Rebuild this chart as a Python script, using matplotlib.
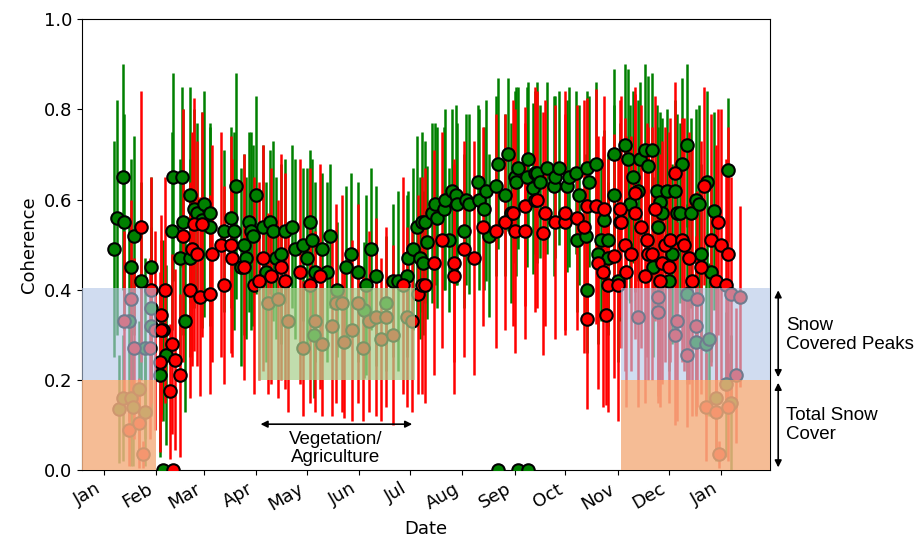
import numpy as np
import matplotlib
matplotlib.use("Agg")
import matplotlib.pyplot as plt
import matplotlib.dates as mdates

# day offsets from 1 Jan, mean coherence and spread
green_day = [
    6, 8, 9, 11, 11, 12, 15, 16, 16, 17,
    18, 21, 22, 24, 24, 28, 28, 28, 33, 35,
    35, 37, 40, 41, 45, 46, 47, 48, 51, 51,
    53, 55, 58, 59, 63, 63, 71, 75, 77, 78,
    81, 83, 84, 86, 87, 88, 90, 94, 96, 98,
    100, 102, 105, 107, 111, 113, 118, 120, 122, 123,
    124, 125, 129, 132, 134, 138, 143, 146, 150, 154,
    155, 158, 161, 167, 171, 174, 179, 180, 183, 185,
    187, 188, 189, 190, 191, 194, 196, 197, 201, 202,
    204, 206, 208, 209, 213, 214, 216, 221, 222, 225,
    226, 228, 232, 233, 233, 237, 239, 241, 243, 244,
    245, 245, 250, 251, 251, 254, 255, 256, 258, 262,
    266, 267, 269, 274, 275, 279, 280, 281, 285, 286,
    286, 287, 291, 292, 294, 296, 298, 298, 302, 302,
    304, 305, 308, 310, 311, 313, 316, 317, 320, 322,
    324, 325, 327, 328, 329, 330, 333, 334, 336, 338,
    339, 341, 342, 345, 345, 347, 350, 350, 352, 353,
    356, 357, 358, 359, 361, 362, 368, 369, 371]
green_val = [
    0.49, 0.56, 0.135, 0.65, 0.16, 0.55, 0.33, 0.45, 0.16, 0.14,
    0.52, 0.18, 0.42, 0.27, 0.13, 0.45, 0.36, 0.32, 0.21, 0.31,
    0.0, 0.255, 0.53, 0.65, 0.47, 0.65, 0.55, 0.33, 0.61, 0.47,
    0.58, 0.57, 0.555, 0.59, 0.57, 0.54, 0.53, 0.56, 0.53, 0.63,
    0.45, 0.50, 0.47, 0.55, 0.53, 0.52, 0.61, 0.54, 0.44, 0.55,
    0.53, 0.47, 0.48, 0.53, 0.54, 0.49, 0.50, 0.47, 0.55, 0.51,
    0.30, 0.44, 0.49, 0.44, 0.52, 0.40, 0.45, 0.48, 0.44, 0.355,
    0.41, 0.49, 0.43, 0.37, 0.42, 0.42, 0.43, 0.47, 0.49, 0.54,
    0.47, 0.55, 0.46, 0.55, 0.505, 0.57, 0.59, 0.56, 0.58, 0.60,
    0.51, 0.62, 0.61, 0.59, 0.53, 0.60, 0.59, 0.64, 0.60, 0.58,
    0.62, 0.52, 0.63, 0.0, 0.68, 0.61, 0.70, 0.57, 0.65, 0.64,
    0.67, 0.0, 0.65, 0.69, 0.0, 0.625, 0.66, 0.66, 0.64, 0.67,
    0.63, 0.65, 0.67, 0.63, 0.65, 0.66, 0.51, 0.61, 0.52, 0.67,
    0.40, 0.64, 0.68, 0.48, 0.51, 0.555, 0.51, 0.47, 0.61, 0.70,
    0.42, 0.55, 0.72, 0.69, 0.59, 0.65, 0.62, 0.69, 0.71, 0.675,
    0.71, 0.45, 0.62, 0.54, 0.595, 0.57, 0.62, 0.42, 0.48, 0.62,
    0.57, 0.57, 0.68, 0.72, 0.39, 0.57, 0.60, 0.285, 0.59, 0.48,
    0.28, 0.64, 0.29, 0.44, 0.575, 0.16, 0.19, 0.665, 0.15]
green_err = [
    0.24, 0.26, 0.12, 0.25, 0.14, 0.24, 0.22, 0.24, 0.15, 0.13,
    0.22, 0.15, 0.22, 0.2, 0.12, 0.2, 0.18, 0.2, 0.18, 0.2,
    0.0, 0.2, 0.22, 0.23, 0.22, 0.2, 0.25, 0.2, 0.24, 0.22,
    0.22, 0.2, 0.24, 0.25, 0.2, 0.22, 0.18, 0.2, 0.22, 0.25,
    0.22, 0.2, 0.18, 0.2, 0.22, 0.2, 0.22, 0.18, 0.2, 0.16,
    0.2, 0.18, 0.2, 0.16, 0.18, 0.2, 0.17, 0.2, 0.16, 0.18,
    0.14, 0.2, 0.17, 0.2, 0.16, 0.15, 0.18, 0.18, 0.2, 0.15,
    0.2, 0.18, 0.2, 0.15, 0.17, 0.2, 0.18, 0.15, 0.18, 0.2,
    0.18, 0.2, 0.16, 0.18, 0.17, 0.2, 0.18, 0.2, 0.18, 0.2,
    0.16, 0.18, 0.2, 0.18, 0.17, 0.19, 0.2, 0.17, 0.2, 0.18,
    0.2, 0.18, 0.2, 0.0, 0.19, 0.18, 0.17, 0.2, 0.19, 0.21,
    0.18, 0.0, 0.2, 0.17, 0.0, 0.19, 0.18, 0.2, 0.17, 0.19,
    0.2, 0.18, 0.17, 0.19, 0.2, 0.18, 0.16, 0.2, 0.18, 0.17,
    0.14, 0.19, 0.18, 0.2, 0.18, 0.2, 0.19, 0.17, 0.2, 0.19,
    0.18, 0.22, 0.18, 0.2, 0.22, 0.19, 0.2, 0.17, 0.19, 0.2,
    0.17, 0.2, 0.19, 0.22, 0.2, 0.21, 0.18, 0.2, 0.2, 0.2,
    0.22, 0.2, 0.19, 0.18, 0.2, 0.21, 0.2, 0.16, 0.22, 0.2,
    0.16, 0.2, 0.17, 0.2, 0.22, 0.14, 0.16, 0.16, 0.15]

red_day = [
    12, 15, 16, 18, 21, 22, 23, 27, 28, 30,
    33, 34, 34, 36, 39, 40, 41, 42, 45, 47,
    51, 52, 53, 55, 57, 58, 63, 64, 69, 71,
    75, 76, 83, 89, 92, 94, 97, 99, 103, 105,
    107, 109, 116, 118, 122, 125, 128, 129, 135, 137,
    141, 142, 147, 150, 153, 157, 161, 164, 167, 171,
    177, 179, 182, 186, 188, 190, 195, 200, 207, 207,
    213, 219, 224, 232, 237, 242, 243, 249, 249, 255,
    256, 260, 261, 267, 273, 273, 280, 284, 286, 286,
    291, 292, 295, 296, 297, 298, 302, 304, 305, 306,
    308, 309, 312, 314, 314, 316, 318, 320, 321, 322,
    324, 326, 328, 328, 329, 330, 332, 334, 335, 338,
    338, 339, 342, 343, 345, 346, 348, 350, 351, 353,
    355, 356, 359, 362, 362, 363, 364, 365, 368, 369,
    369, 371, 374, 376]
red_val = [
    0.33, 0.09, 0.38, 0.27, 0.105, 0.54, 0.035, 0.27, 0.40, 0.31,
    0.24, 0.345, 0.31, 0.40, 0.175, 0.28, 0.0, 0.245, 0.21, 0.52,
    0.40, 0.49, 0.545, 0.48, 0.385, 0.545, 0.39, 0.48, 0.50, 0.41,
    0.50, 0.47, 0.45, 0.41, 0.42, 0.47, 0.37, 0.43, 0.38, 0.45,
    0.42, 0.33, 0.44, 0.27, 0.41, 0.33, 0.43, 0.28, 0.32, 0.37,
    0.37, 0.285, 0.31, 0.37, 0.27, 0.33, 0.34, 0.29, 0.34, 0.30,
    0.41, 0.34, 0.33, 0.39, 0.41, 0.41, 0.46, 0.51, 0.43, 0.46,
    0.49, 0.47, 0.54, 0.53, 0.55, 0.57, 0.53, 0.53, 0.585, 0.60,
    0.60, 0.525, 0.57, 0.55, 0.55, 0.57, 0.56, 0.54, 0.585, 0.335,
    0.585, 0.46, 0.44, 0.58, 0.345, 0.41, 0.475, 0.41, 0.58, 0.55,
    0.50, 0.44, 0.48, 0.615, 0.57, 0.34, 0.54, 0.43, 0.51, 0.48,
    0.48, 0.58, 0.385, 0.35, 0.42, 0.46, 0.50, 0.45, 0.51, 0.66,
    0.30, 0.33, 0.51, 0.50, 0.255, 0.47, 0.42, 0.32, 0.38, 0.45,
    0.63, 0.14, 0.51, 0.42, 0.13, 0.55, 0.035, 0.50, 0.41, 0.14,
    0.48, 0.39, 0.21, 0.385]
red_err = [
    0.2, 0.08, 0.22, 0.2, 0.1, 0.3, 0.03, 0.2, 0.25, 0.22,
    0.2, 0.22, 0.2, 0.25, 0.15, 0.2, 0.0, 0.2, 0.18, 0.28,
    0.24, 0.26, 0.28, 0.25, 0.22, 0.25, 0.22, 0.24, 0.25, 0.22,
    0.24, 0.22, 0.25, 0.24, 0.22, 0.25, 0.2, 0.24, 0.22, 0.25,
    0.24, 0.2, 0.25, 0.15, 0.26, 0.2, 0.25, 0.16, 0.2, 0.22,
    0.24, 0.17, 0.2, 0.22, 0.16, 0.2, 0.22, 0.18, 0.2, 0.2,
    0.24, 0.2, 0.2, 0.22, 0.24, 0.26, 0.25, 0.24, 0.26, 0.22,
    0.24, 0.26, 0.22, 0.26, 0.24, 0.25, 0.27, 0.24, 0.22, 0.25,
    0.24, 0.27, 0.25, 0.26, 0.24, 0.27, 0.25, 0.28, 0.24, 0.2,
    0.26, 0.28, 0.3, 0.25, 0.2, 0.28, 0.27, 0.3, 0.24, 0.28,
    0.28, 0.3, 0.26, 0.22, 0.28, 0.2, 0.27, 0.28, 0.26, 0.28,
    0.28, 0.25, 0.22, 0.2, 0.28, 0.27, 0.26, 0.3, 0.27, 0.2,
    0.2, 0.22, 0.27, 0.28, 0.16, 0.28, 0.3, 0.2, 0.24, 0.28,
    0.22, 0.12, 0.28, 0.3, 0.1, 0.25, 0.03, 0.3, 0.28, 0.12,
    0.28, 0.26, 0.15, 0.2]

start = np.datetime64("2017-01-01")
g_dates = start + np.array(green_day).astype("timedelta64[D]")
r_dates = start + np.array(red_day).astype("timedelta64[D]")

fig = plt.figure(figsize=(9.21, 5.48), dpi=100)
ax = fig.add_axes([0.089, 0.142, 0.747, 0.823])

ax.errorbar(g_dates, green_val, yerr=green_err, fmt="none", ecolor="green",
            elinewidth=1.8, capsize=0, zorder=2)
ax.errorbar(r_dates, red_val, yerr=red_err, fmt="none", ecolor="red",
            elinewidth=1.8, capsize=0, zorder=2)
ax.plot(g_dates, green_val, "o", color="green", mec="black", mew=1.5, ms=9, zorder=3)
ax.plot(r_dates, red_val, "o", color="red", mec="black", mew=1.5, ms=9, zorder=3)

x_lo = np.datetime64("2016-12-19")
x_hi = np.datetime64("2018-01-30")
ax.set_xlim(x_lo, x_hi)
ax.set_ylim(0, 1)

# shaded zones (drawn over the points)
for a, b in [(x_lo, np.datetime64("2017-02-01")), (np.datetime64("2017-11-03"), x_hi)]:
    ax.axvspan(a, b, ymin=0.2, ymax=0.405, color="#b4c7e7", alpha=0.62, lw=0, zorder=5)
    ax.axvspan(a, b, ymin=0.0, ymax=0.2, color="#f4b183", alpha=0.85, lw=0, zorder=5)
ax.axvspan(np.datetime64("2017-04-02"), np.datetime64("2017-07-04"), ymin=0.2, ymax=0.405,
           color="#a9d18e", alpha=0.72, lw=0, zorder=5)

ax.xaxis.set_major_locator(mdates.MonthLocator())
ax.xaxis.set_major_formatter(mdates.DateFormatter("%b"))
plt.setp(ax.get_xticklabels(), rotation=30, ha="right", fontsize=13)
plt.setp(ax.get_yticklabels(), fontsize=13)
ax.set_yticks([0, 0.2, 0.4, 0.6, 0.8, 1.0])
ax.set_xlabel("Date", fontsize=13)
ax.set_ylabel("Coherence", fontsize=13)

# annotations
ann = dict(family="Liberation Sans", fontsize=13.5)
ax.annotate("", xy=(np.datetime64("2017-04-02"), 0.102), xytext=(np.datetime64("2017-07-04"), 0.102),
            arrowprops=dict(arrowstyle="<|-|>", color="black", lw=1.2, mutation_scale=10), zorder=6)
ax.text(np.datetime64("2017-05-18"), 0.048, "Vegetation/\nAgriculture", ha="center", va="center",
        linespacing=1.1, zorder=6, **ann)

tr = ax.get_yaxis_transform()
ax.annotate("", xy=(1.012, 0.405), xytext=(1.012, 0.2), xycoords=tr, textcoords=tr,
            arrowprops=dict(arrowstyle="<|-|>", color="black", lw=1.2, mutation_scale=10),
            annotation_clip=False)
ax.annotate("", xy=(1.012, 0.2), xytext=(1.012, 0.0), xycoords=tr, textcoords=tr,
            arrowprops=dict(arrowstyle="<|-|>", color="black", lw=1.2, mutation_scale=10),
            annotation_clip=False)
ax.text(1.024, 0.3, "Snow\nCovered Peaks", transform=tr, ha="left", va="center",
        linespacing=1.2, **ann)
ax.text(1.024, 0.1, "Total Snow\nCover", transform=tr, ha="left", va="center",
        linespacing=1.2, **ann)

fig.savefig("out.png", dpi=100)
